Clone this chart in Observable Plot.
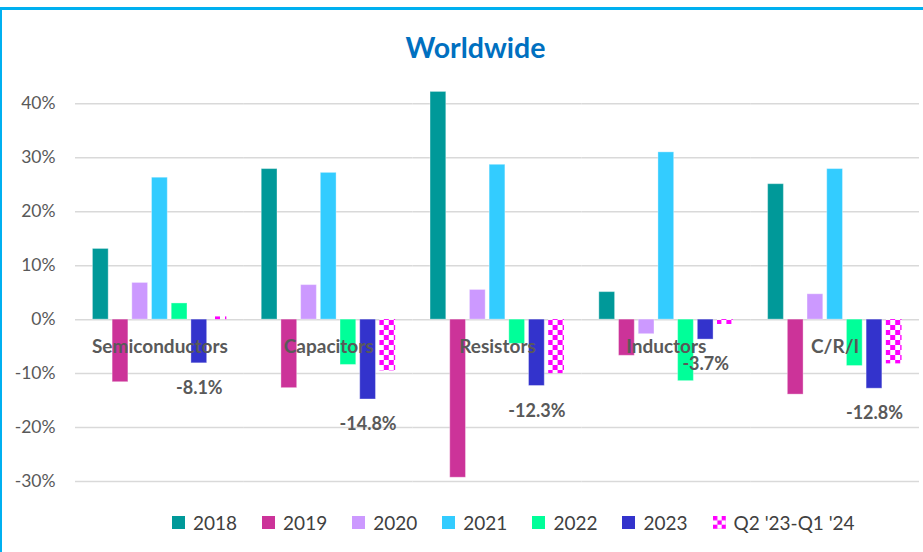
<!DOCTYPE html>
<html>
<head>
<meta charset="utf-8">
<script src="https://cdn.jsdelivr.net/npm/d3@7"></script>
<script src="https://cdn.jsdelivr.net/npm/@observablehq/plot@0.6"></script>
<style>
html, body { margin: 0; padding: 0; background: #fff; }
#wrap { position: relative; width: 923px; height: 552px; overflow: hidden; font-family: Lato, sans-serif; }
#frame { position: absolute; left: 0; top: 7px; width: 960px; height: 600px; border-top: 3.5px solid #00B0F0; border-left: 2.5px solid #00B0F0; box-sizing: border-box; }
#title { position: absolute; top: 33px; left: 475.5px; transform: translateX(-50%); font: bold 28.5px Lato, sans-serif; color: #0070C0; line-height: 28.5px; white-space: nowrap; }
#chart { position: absolute; left: 0; top: 0; }
#legend { position: absolute; left: 172px; top: 512.5px; height: 19px; display: flex; align-items: center; font: 19px Lato, sans-serif; color: #404040; line-height: 19px; white-space: nowrap; }
.item { display: flex; align-items: center; margin-right: 25px; }
.item svg { margin-right: 8px; display: block; }
</style>
</head>
<body>
<div id="wrap">
  <div id="frame"></div>
  <div id="chart"></div>
  <div id="title">Worldwide</div>
  <div id="legend"></div>
</div>
<script>
// ---- data ----
const categories = ["Semiconductors", "Capacitors", "Resistors", "Inductors", "C/R/I"];
const series = ["2018", "2019", "2020", "2021", "2022", "2023", "Q2 '23-Q1 '24"];
const colors = ["#009999", "#CC3399", "#CC99FF", "#33CCFF", "#00FF99", "#3333CC", "#FF00FF"];
const v2018 = [13.1, 27.9, 42.2, 5.1, 25.1];
const v2019 = [-11.6, -12.7, -29.3, -6.7, -13.9];
const v2020 = [6.8, 6.4, 5.5, -2.7, 4.7];
const v2021 = [26.3, 27.2, 28.7, 31.0, 27.9];
const v2022 = [3.0, -8.4, -4.5, -11.4, -8.6];
const v2023 = [-8.1, -14.8, -12.3, -3.7, -12.8];
const vQ2 = [0.5, -9.5, -10.0, -0.9, -8.2];
const yTicks = [-30, -20, -10, 0, 10, 20, 30, 40];

const seriesValues = [v2018, v2019, v2020, v2021, v2022, v2023, vQ2];
const Q2 = series[6];
const rows = [];
categories.forEach((c, i) => series.forEach((s, j) => rows.push({category: c, series: s, value: seriesValues[j][i]})));

const chart = Plot.plot({
  width: 923,
  height: 500,
  marginLeft: 75,
  marginRight: 4,
  marginTop: 103.3,
  marginBottom: 19,
  style: {fontFamily: "Lato, sans-serif", background: "transparent", overflow: "visible"},
  fx: {domain: categories, padding: 0, round: false, axis: null},
  x: {domain: series, paddingInner: 0.2, paddingOuter: 0.885, round: false, axis: null},
  y: {domain: [-30, 40], axis: null},
  color: {domain: series.slice(0, 6), range: colors.slice(0, 6)},
  marks: [
    Plot.gridY(yTicks, {stroke: "#d9d9d9", strokeWidth: 1.5, strokeOpacity: 1}),
    Plot.barY(rows.filter(d => d.series !== Q2), {fx: "category", x: "series", y: "value", fill: "series", stroke: "white", strokeOpacity: 0.35, strokeWidth: 1}),
    Plot.barY(rows.filter(d => d.series === Q2), {fx: "category", x: "series", y: "value", fill: "url(#checker)"}),
    Plot.text(categories, {fx: d => d, y: d => 0, text: d => d, dy: 27, fontSize: 19, fontWeight: "bold", fill: "#595959"}),
    Plot.text(rows.filter(d => d.series === "2023"), {fx: "category", x: "series", y: "value", text: d => d.value.toFixed(1) + "%", dy: 25, fontSize: 18, fontWeight: "bold", fill: "#595959"}),
    Plot.axisY(yTicks, {tickSize: 0, tickPadding: 20, tickFormat: d => d + "%", fontSize: 17.5, color: "#595959", label: null})
  ]
});

const svgNS = "http://www.w3.org/2000/svg";
const defs = document.createElementNS(svgNS, "defs");
defs.innerHTML = '<pattern id="checker" patternUnits="userSpaceOnUse" width="10" height="10">' +
  '<rect width="10" height="10" fill="#fff"/><rect width="5" height="5" fill="#FF00FF"/>' +
  '<rect x="5" y="5" width="5" height="5" fill="#FF00FF"/></pattern>' +
  '<pattern id="checkerSmall" patternUnits="userSpaceOnUse" width="8.7" height="8.7">' +
  '<rect width="8.7" height="8.7" fill="#fff"/><rect width="4.35" height="4.35" fill="#FF00FF"/>' +
  '<rect x="4.35" y="4.35" width="4.35" height="4.35" fill="#FF00FF"/></pattern>';
chart.prepend(defs);
document.getElementById("chart").appendChild(chart);

// ---- legend ----
const legend = document.getElementById("legend");
series.forEach((s, j) => {
  const item = document.createElement("div");
  item.className = "item";
  const fill = s === Q2 ? "url(#checkerSmall)" : colors[j];
  item.innerHTML = '<svg width="13" height="13"><rect width="13" height="13" fill="' + fill + '"/></svg><span></span>';
  item.querySelector("span").textContent = s;
  legend.appendChild(item);
});
</script>
</body>
</html>
